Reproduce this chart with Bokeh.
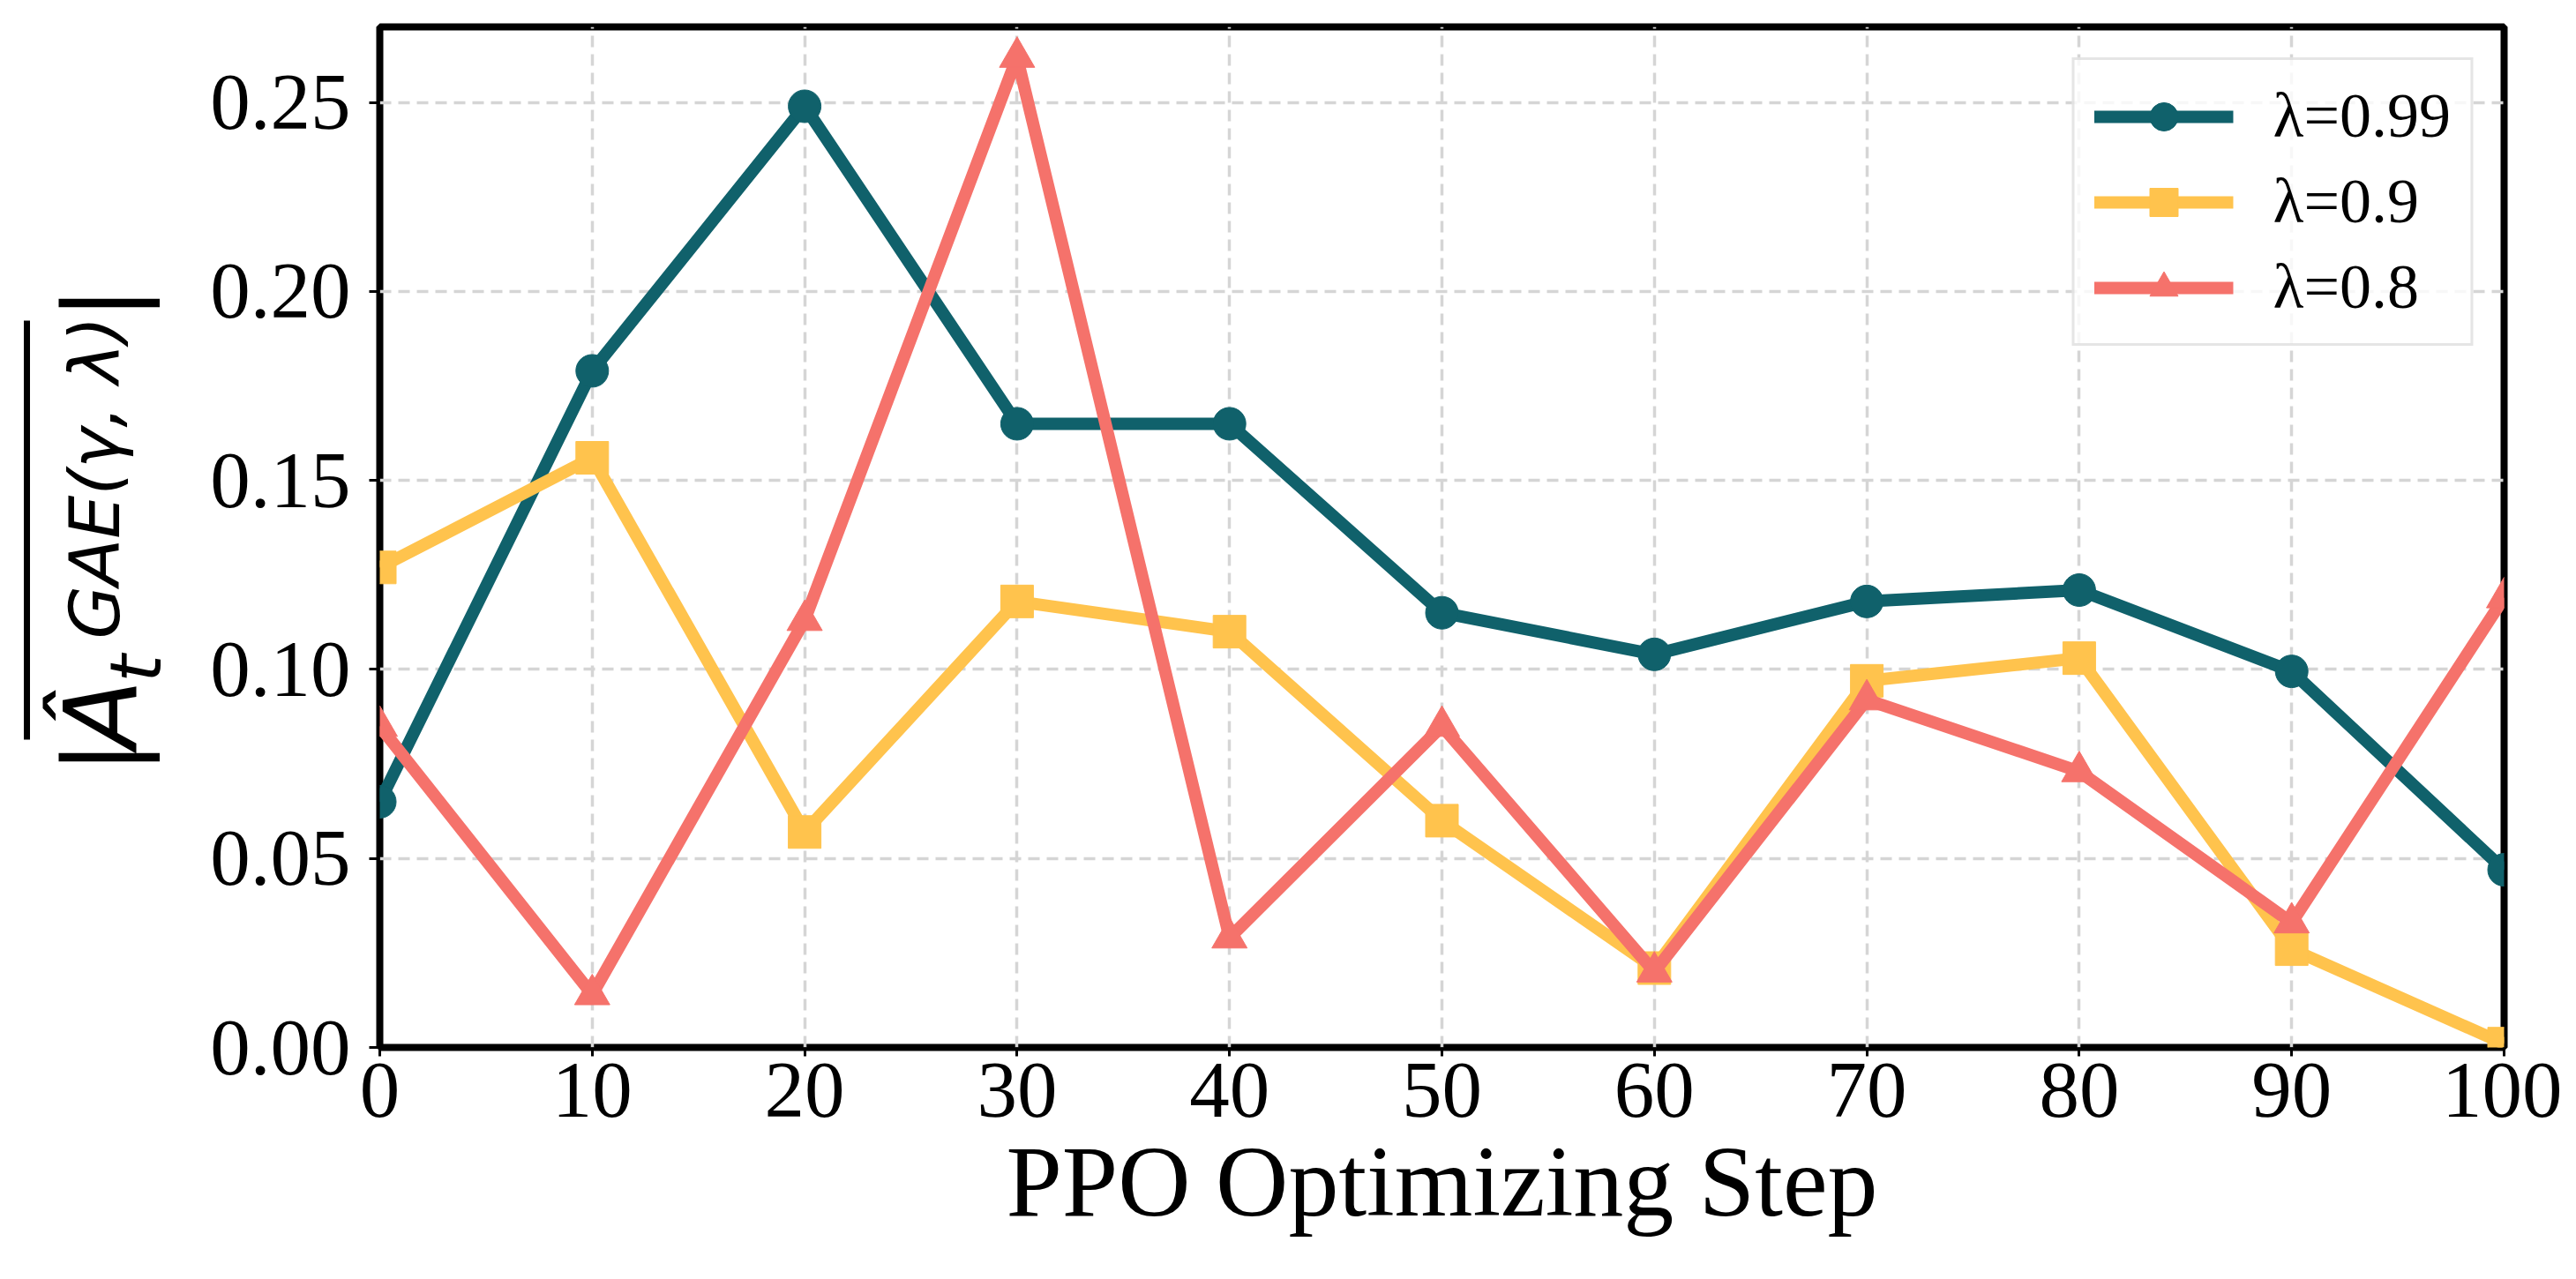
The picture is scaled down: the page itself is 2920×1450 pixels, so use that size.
from bokeh.plotting import figure
from bokeh.layouts import row
from bokeh.models import (ColumnDataSource, Legend, LegendItem, Label, BoxAnnotation,
                          FixedTicker, NumeralTickFormatter, Range1d)
from bokeh.embed import file_html
from bokeh.resources import INLINE

# data
steps = [0, 10, 20, 30, 40, 50, 60, 70, 80, 90, 100]
adv_099 = [0.065, 0.179, 0.249, 0.165, 0.165, 0.115, 0.104, 0.118, 0.121, 0.0995, 0.047]
adv_09 = [0.127, 0.156, 0.057, 0.118, 0.110, 0.060, 0.021, 0.097, 0.103, 0.026, 0.001]
adv_08 = [0.085, 0.014, 0.113, 0.262, 0.029, 0.085, 0.020, 0.092, 0.073, 0.033, 0.119]
labels = ["λ=0.99", "λ=0.9", "λ=0.8"]
colors = ["#10616b", "#ffc34d", "#f5726b"]
markers = ["circle", "square", "triangle"]
x_ticks = [0, 10, 20, 30, 40, 50, 60, 70, 80, 90, 100]
y_ticks = [0.0, 0.05, 0.10, 0.15, 0.20, 0.25]

SERIF = "Liberation Serif"
H = 1440
LAB_W = 230
TOP, BOTTOM = 30, 253
FRAME_BOTTOM = H - BOTTOM   # 1187 in page pixels

p = figure(width=2904 - LAB_W, height=H, output_backend="svg", toolbar_location=None,
           x_range=Range1d(0, 100), y_range=Range1d(0, 0.27),
           min_border_left=430 - LAB_W, min_border_right=66,
           min_border_top=TOP, min_border_bottom=BOTTOM)
p.background_fill_color = "white"
p.border_fill_color = "white"
p.outline_line_color = "black"
p.outline_line_width = 8

# grid
for g in (p.xgrid, p.ygrid):
    g.grid_line_color = "#d5d5d5"
    g.grid_line_width = 3.5
    g.grid_line_dash = "13 8"
p.xgrid.ticker = FixedTicker(ticks=x_ticks)
p.ygrid.ticker = FixedTicker(ticks=y_ticks)

# axes
p.xaxis.ticker = FixedTicker(ticks=x_ticks)
p.yaxis.ticker = FixedTicker(ticks=y_ticks)
p.yaxis.formatter = NumeralTickFormatter(format="0.00")
for ax in (p.xaxis, p.yaxis):
    ax.axis_line_color = None
    ax.major_tick_line_color = "black"
    ax.major_tick_line_width = 3
    ax.major_tick_in = 0
    ax.minor_tick_line_color = None
    ax.major_label_text_font = SERIF
    ax.major_label_text_font_size = "91px"
    ax.major_label_text_color = "black"
p.xaxis.major_tick_out = 10
p.xaxis.major_label_standoff = 8
p.yaxis.major_tick_out = 12
p.yaxis.major_label_standoff = 21

p.xaxis.axis_label = "PPO Optimizing Step"
p.xaxis.axis_label_text_font = SERIF
p.xaxis.axis_label_text_font_size = "114px"
p.xaxis.axis_label_text_font_style = "normal"
p.xaxis.axis_label_text_color = "black"
p.xaxis.axis_label_standoff = 7

# series
items = []
for vals, lab, col, mk in zip([adv_099, adv_09, adv_08], labels, colors, markers):
    src = ColumnDataSource(dict(x=steps, y=vals))
    ln = p.line("x", "y", source=src, line_color=col, line_width=14)
    sz = 40 if mk == "triangle" else 37
    sc = p.scatter("x", "y", source=src, marker=mk, size=sz, fill_color=col, line_color=col)
    items.append(LegendItem(label=lab, renderers=[ln, sc]))

legend = Legend(items=items, location="top_right", margin=35, padding=22, spacing=14,
                glyph_width=158, glyph_height=80, label_height=80, label_standoff=45,
                label_text_font=SERIF, label_text_font_size="72px", label_text_color="black",
                border_line_color="#cccccc", border_line_width=3,
                background_fill_color="white", background_fill_alpha=0.8)
p.add_layout(legend)

# y label panel: overline |Â_t^{GAE(γ,λ)}| built from rotated pieces;
# its frame lines up with the main frame, coordinates are pixels up from the frame bottom
lab = figure(width=LAB_W, height=H, output_backend="svg", toolbar_location=None,
             x_range=Range1d(0, LAB_W), y_range=Range1d(0, H - TOP - BOTTOM),
             x_axis_type=None, y_axis_type=None,
             min_border_left=0, min_border_right=0,
             min_border_top=TOP, min_border_bottom=BOTTOM)
lab.outline_line_color = None
lab.grid.visible = False
lab.background_fill_color = "white"
lab.border_fill_color = "white"

ANG = 1.5708
ASC = 0.928   # DejaVu Sans ascent, used to place the top of each rotated piece
# (text, baseline x, start y in page px, font size px, style, align, nudge)
ylab_pieces = [
    ("|", 173, 858, 114, "normal", "center", 20),
    ("Â", 173, 848, 114, "italic", "left", 20),
    ("t", 192, 773, 80, "italic", "left", 10),
    ("GAE(γ, λ)", 130, 724, 78, "italic", "left", -5),
    ("|", 173, 343, 114, "normal", "center", 20),
]
for txt, bx, py, fs, st, al, nudge in ylab_pieces:
    lab.add_layout(Label(x=bx - ASC * fs - nudge, y=FRAME_BOTTOM - py, text=txt, angle=ANG,
                         text_font="DejaVu Sans", text_font_size=f"{fs}px", text_font_style=st,
                         text_align=al, text_baseline="top", text_color="black"))
lab.add_layout(BoxAnnotation(left=26.5, right=33.5,
                             bottom=FRAME_BOTTOM - 838, top=FRAME_BOTTOM - 363,
                             fill_color="black", fill_alpha=1, line_color=None))

layout = row(lab, p)
open("out.html", "w").write(file_html(layout, INLINE))
